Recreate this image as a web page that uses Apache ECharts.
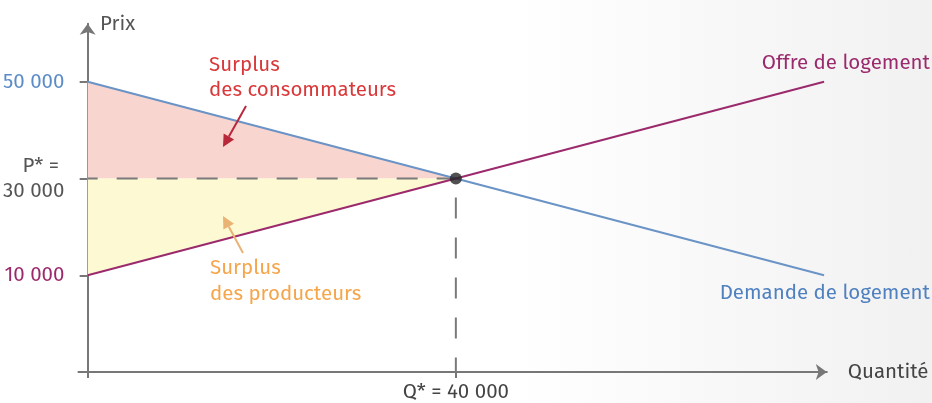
<!DOCTYPE html>
<html><head><meta charset="utf-8">
<script src="https://cdn.jsdelivr.net/npm/echarts@6/dist/echarts.min.js"></script>
<style>
html,body{margin:0;padding:0;background:linear-gradient(90deg,#ffffff 0%,#ffffff 55%,#f1f1f1 100%);}
#c{width:932px;height:403px;}
</style>
</head><body><div id="c"></div>
<script>
// ---- data ----
const demandQ = [0, 80000];
const demandP = [50000, 10000];
const supplyQ = [0, 80000];
const supplyP = [10000, 50000];
const eqQ = 40000;
const eqP = 30000;
const yTicks = [10000, 30000, 50000];
const yTickLabels = ['10 000', 'P* = \n30 000', '50 000'];
const xTicks = [40000];
const xTickLabels = ['Q* = 40 000'];

const FONT = '"Fira Sans","Open Sans","Noto Sans",sans-serif';
const FS = 20.5;
const AX = '#777777';
const BLUE = '#6a93c6', PURPLE = '#9b2a6c';

const chart = echarts.init(document.getElementById('c'), null, {renderer:'canvas'});

function tri(points, color){
  return {
    type:'custom', coordinateSystem:'cartesian2d', silent:true, z:1,
    data:[[0,0]],
    renderItem:(params, api)=>({
      type:'polygon',
      shape:{points:points.map(p=>api.coord(p))},
      style:{fill:color}
    })
  };
}

function arrow(x1,y1,x2,y2,color){
  const dx=x2-x1, dy=y2-y1, L=Math.hypot(dx,dy), ux=dx/L, uy=dy/L;
  const hl=12, hw=6;
  const bx=x2-ux*hl, by=y2-uy*hl;
  return [
    {type:'line', shape:{x1:x1,y1:y1,x2:bx,y2:by}, style:{stroke:color,lineWidth:2}, z:10},
    {type:'polygon', shape:{points:[[x2,y2],[bx-uy*hw,by+ux*hw],[bx+uy*hw,by-ux*hw]]}, style:{fill:color}, z:10}
  ];
}
function txt(x,y,s,color,align){
  return {type:'text', x:x, y:y, z:10, style:{text:s, fill:color, font:FS+'px '+FONT, textAlign:align||'left', textVerticalAlign:'middle'}};
}

const yLabelMap = {};
yTicks.forEach((v,i)=>yLabelMap[v]=yTickLabels[i]);
const xLabelMap = {};
xTicks.forEach((v,i)=>xLabelMap[v]=xTickLabels[i]);

const option = {
  animation:false,
  backgroundColor:'transparent',
  textStyle:{fontFamily:FONT},
  grid:{left:76.8, right:105.2, top:23.8, bottom:30, containLabel:false},
  xAxis:{
    type:'value', min:-1000, max:80300,
    splitLine:{show:false},
    axisLine:{onZero:false, symbol:['none','arrow'], symbolSize:[12,11], lineStyle:{color:AX,width:2}},
    axisTick:{show:true, customValues:[0].concat(xTicks), length:6, lineStyle:{color:AX,width:2}},
    axisLabel:{customValues:xTicks, margin:10, color:'#444', fontSize:FS, fontFamily:FONT,
      formatter:v=>xLabelMap[v]||''},
    name:'Quantité', nameLocation:'end', nameGap:21,
    nameTextStyle:{color:'#444', fontSize:FS, fontFamily:FONT}
  },
  yAxis:{
    type:'value', min:-10000, max:62000,
    splitLine:{show:false},
    axisLine:{onZero:true, symbol:['none','arrow'], symbolSize:[12,11], lineStyle:{color:AX,width:2}},
    axisTick:{show:true, customValues:yTicks, length:8, lineStyle:{color:AX,width:2}},
    axisLabel:{customValues:yTicks, margin:14, fontFamily:FONT,
      formatter:v=>{
        if(v===yTicks[2]) return '{b|'+yLabelMap[v]+'}';
        if(v===yTicks[0]) return '{m|'+yLabelMap[v]+'}';
        return yLabelMap[v].split('\n').map(s=>'{p|'+s+'}').join('\n');
      },
      rich:{
        b:{color:'#5b8cc8', fontSize:FS, fontFamily:FONT},
        m:{color:PURPLE, fontSize:FS, fontFamily:FONT},
        p:{color:'#555', fontSize:FS, lineHeight:25, align:'right', fontFamily:FONT}
      }
    }
  },
  series:[
    tri([[0,demandP[0]],[eqQ,eqP],[0,eqP]], '#f9d5d0'),
    tri([[0,eqP],[eqQ,eqP],[0,supplyP[0]]], '#fdf9d3'),
    {type:'line', data:[[0,eqP],[eqQ,eqP]], symbol:'none', z:3,
      lineStyle:{color:'#7a7a7a', width:2, type:[21,19], dashOffset:11}},
    {type:'line', data:[[eqQ,eqP],[eqQ,-10000]], symbol:'none', z:3,
      lineStyle:{color:'#7a7a7a', width:2, type:[21,19], dashOffset:21}},
    {type:'line', data:demandQ.map((q,i)=>[q,demandP[i]]), symbol:'none', z:4,
      lineStyle:{color:BLUE, width:2}},
    {type:'line', data:supplyQ.map((q,i)=>[q,supplyP[i]]), symbol:'none', z:5,
      lineStyle:{color:PURPLE, width:2}},
    {type:'scatter', data:[[eqQ,eqP]], symbolSize:12, z:6, itemStyle:{color:'#262626'}}
  ],
  graphic:[
    txt(100,24,'Prix','#555'),
    txt(930,63,'Offre de logement',PURPLE,'right'),
    txt(930,293,'Demande de logement','#4f80c0','right'),
    txt(209,65,'Surplus','#d9383a'),
    txt(209,90,'des consommateurs','#d9383a'),
    txt(210,268,'Surplus','#f5a54a'),
    txt(210,294,'des producteurs','#f5a54a'),
    ...arrow(246,106,223,147,'#b8283a'),
    ...arrow(243,253,223,216,'#e9b374')
  ]
};
chart.setOption(option);
</script>
</body></html>
